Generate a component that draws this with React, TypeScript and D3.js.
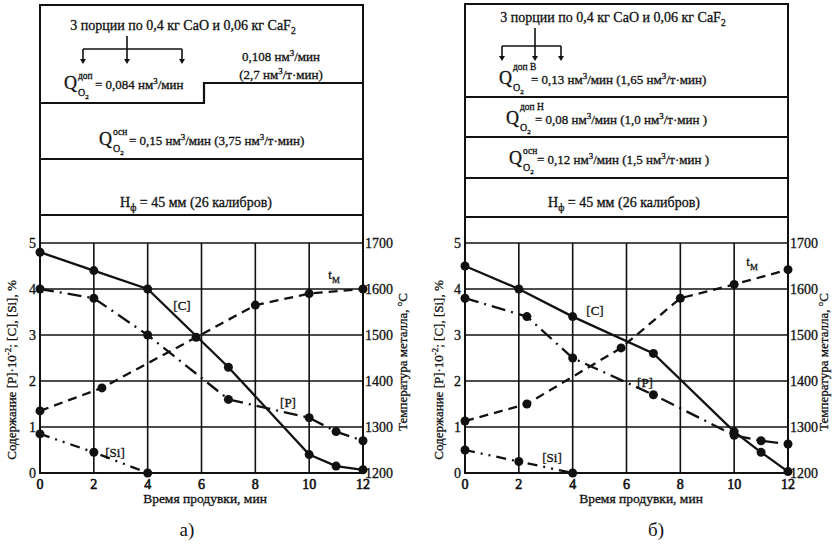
import React from "react";
import * as d3 from "d3";

const FONT = "'Liberation Serif','Times New Roman',serif";

// ---- axes ticks ----
const timeTicks = [0, 2, 4, 6, 8, 10, 12];
const contentTicks = [0, 1, 2, 3, 4, 5];
const tempTicks = [1200, 1300, 1400, 1500, 1600, 1700];

// ---- chart a) ----
const aC_t = [0, 2, 4, 7, 10, 11, 12];
const aC_v = [4.8, 4.4, 4.0, 2.3, 0.4, 0.15, 0.07];
const aP_t = [0, 2, 4, 7, 10, 11, 12];
const aP_v = [4.0, 3.8, 3.0, 1.6, 1.2, 0.9, 0.7];
const aSi_t = [0, 2, 4];
const aSi_v = [0.85, 0.45, 0.0];
const aT_t = [0, 2.3, 5.8, 8, 10, 12];
const aT_v = [1335, 1385, 1495, 1565, 1590, 1600];

// ---- chart б) ----
const bC_t = [0, 2, 4, 7, 10, 11, 12];
const bC_v = [4.5, 4.0, 3.4, 2.6, 0.9, 0.45, 0.03];
const bP_t = [0, 2.3, 4, 7, 10, 11, 12];
const bP_v = [3.8, 3.4, 2.5, 1.7, 0.82, 0.7, 0.63];
const bSi_t = [0, 2, 4];
const bSi_v = [0.5, 0.25, 0.0];
const bT_t = [0, 2.3, 5.8, 8, 10, 12];
const bT_v = [1313, 1350, 1472, 1580, 1610, 1642];

type Part = [string, "n" | "sup" | "sub"];

function rich(parts: Part[], fs: number) {
  let shift = 0;
  const out: any[] = [];
  parts.forEach(([t, k], i) => {
    const target = k === "sup" ? -fs * 0.42 : k === "sub" ? fs * 0.3 : 0;
    const dy = target - shift;
    shift = target;
    out.push(
      <tspan key={i} dy={dy} fontSize={k === "n" ? fs : fs * 0.68}>
        {t}
      </tspan>
    );
  });
  return out;
}

function QLabel({ x, y, sup, rest, supW, supDy = 10 }: { x: number; y: number; sup: string; rest: Part[]; supW: number; supDy?: number }) {
  return (
    <g fontFamily={FONT} fill="#111">
      <text x={x} y={y} fontSize={18}>Q</text>
      <text x={x + 14} y={y - supDy} fontSize={9.5}>{sup}</text>
      <text x={x + 14} y={y + 7} fontSize={10}>
        O<tspan dy={2.5} fontSize={7}>2</tspan>
      </text>
      <text x={x + 14 + supW} y={y} fontSize={13}>
        {rich(rest, 13)}
      </text>
    </g>
  );
}

function Arrow({ x, y1, y2 }: { x: number; y1: number; y2: number }) {
  return (
    <g>
      <line x1={x} y1={y1} x2={x} y2={y2 - 4} stroke="#111" strokeWidth={1.6} />
      <path d={`M${x - 3},${y2 - 5} L${x + 3},${y2 - 5} L${x},${y2} Z`} fill="#111" />
    </g>
  );
}

function Bracket({ xs, xMid, yTop, yBar, yEnd }: { xs: number[]; xMid: number; yTop: number; yBar: number; yEnd: number }) {
  return (
    <g>
      <line x1={xMid} y1={yTop} x2={xMid} y2={yBar} stroke="#111" strokeWidth={1.6} />
      <line x1={xs[0]} y1={yBar} x2={xs[xs.length - 1]} y2={yBar} stroke="#111" strokeWidth={1.6} />
      {xs.map((x, i) => (
        <Arrow key={i} x={x} y1={yBar} y2={yEnd} />
      ))}
    </g>
  );
}

type Series = { t: number[]; v: number[]; temp?: boolean; dash?: string };

function Chart(props: {
  x0: number;
  x1: number;
  top: number;
  series: Series[];
  labels: { x: number; y: number; parts: Part[] }[];
  leftTitleX: number;
  rightTitleX: number;
  xTitleX: number;
  caption: string;
  captionX: number;
}) {
  const { x0, x1, top, series, labels } = props;
  const x = d3.scaleLinear().domain([0, 12]).range([x0, x1]);
  const y = d3.scaleLinear().domain([0, 5]).range([473, 243]);
  const yT = d3.scaleLinear().domain([1200, 1700]).range([473, 243]);
  return (
    <g fontFamily={FONT} fill="#111">
      {/* grid */}
      {contentTicks.map((v) => (
        <line key={"h" + v} x1={x0} x2={x1} y1={y(v)} y2={y(v)} stroke="#111" strokeWidth={1.6} />
      ))}
      {timeTicks.map((t) => (
        <line key={"v" + t} x1={x(t)} x2={x(t)} y1={y(5)} y2={y(0)} stroke="#111" strokeWidth={1.6} />
      ))}
      {/* frame */}
      <rect x={x0} y={top} width={x1 - x0} height={y(0) - top} fill="none" stroke="#111" strokeWidth={2} />
      {/* series */}
      {series.map((s, i) => {
        const ys = s.temp ? yT : y;
        const pts = s.t.map((t, j) => [x(t), ys(s.v[j])] as [number, number]);
        const path = d3.line()(pts) || "";
        return (
          <g key={i}>
            <path d={path} fill="none" stroke="#111" strokeWidth={2.3} strokeDasharray={s.dash} />
            {pts.map((p, j) => (
              <circle key={j} cx={p[0]} cy={p[1]} r={4.5} fill="#111" />
            ))}
          </g>
        );
      })}
      {/* series labels */}
      {labels.map((l, i) => (
        <text key={i} x={l.x} y={l.y} fontSize={13} textAnchor="middle">
          {rich(l.parts, 13)}
        </text>
      ))}
      {/* left tick labels */}
      {contentTicks.map((v) => (
        <text key={"l" + v} x={x0 - 4} y={y(v) + 5} fontSize={14} textAnchor="end">
          {v}
        </text>
      ))}
      {/* right tick labels */}
      {tempTicks.map((v) => (
        <text key={"r" + v} x={x1 + 2} y={yT(v) + 5} fontSize={14} textAnchor="start">
          {v}
        </text>
      ))}
      {/* x tick labels */}
      {timeTicks.map((t) => (
        <text key={"x" + t} x={x(t)} y={489} fontSize={14} textAnchor="middle" className="bold">
          {t}
        </text>
      ))}
      <text x={props.xTitleX} y={503} fontSize={13.5} textAnchor="middle">
        Время продувки, мин
      </text>
      <text
        transform={`translate(${props.leftTitleX},370) rotate(-90)`}
        fontSize={13}
        textAnchor="middle"
      >
        {rich(
          [
            ["Содержание [P]·10", "n"],
            ["-2", "sup"],
            ["; [C], [Si], %", "n"],
          ],
          13
        )}
      </text>
      <text
        transform={`translate(${props.rightTitleX},362) rotate(-90)`}
        fontSize={13}
        textAnchor="middle"
      >
        {rich(
          [
            ["Температура металла, ", "n"],
            ["o", "sup"],
            ["C", "n"],
          ],
          13
        )}
      </text>
      <text x={props.captionX} y={536} fontSize={19} textAnchor="middle" className="thin">
        {props.caption}
      </text>
    </g>
  );
}

export default function App() {
  const dashT = "9,6";
  const dashP = "14,6,2,6";
  const dashSi = "10,6,2,6,2,6";
  return (
    <svg
      width={835}
      height={545}
      style={{ position: "absolute", left: 0, top: 0, background: "#fff" }}
      fontFamily={FONT}
    >
      <style>{`text { stroke: #111; stroke-width: 0.3px; } text.bold { stroke-width: 0.6px; } text.thin { stroke-width: 0; }`}</style>
      <rect x={0} y={0} width={835} height={545} fill="#fff" />
      {/* ===== Panel a) top ===== */}
      <g fill="#111">
        <text x={183} y={30} fontSize={14} textAnchor="middle">
          {rich(
            [
              ["3 порции по 0,4 кг CaO и 0,06 кг CaF", "n"],
              ["2", "sub"],
            ],
            14
          )}
        </text>
        <Bracket xs={[83, 127, 182]} xMid={127} yTop={36} yBar={49} yEnd={64} />
        <QLabel
          x={64}
          y={89}
          sup="доп"
          supW={17}
          rest={[
            ["= 0,084 нм", "n"],
            ["3", "sup"],
            ["/мин", "n"],
          ]}
        />
        <text x={281} y={61} fontSize={13} textAnchor="middle">
          {rich(
            [
              ["0,108 нм", "n"],
              ["3", "sup"],
              ["/мин", "n"],
            ],
            13
          )}
        </text>
        <text x={281} y={79} fontSize={13} textAnchor="middle">
          {rich(
            [
              ["(2,7 нм", "n"],
              ["3", "sup"],
              ["/т·мин)", "n"],
            ],
            13
          )}
        </text>
        <path d="M40,103 L204,103 L204,83 L363,83" fill="none" stroke="#111" strokeWidth={2.2} />
        <QLabel
          x={99}
          y={145}
          sup="осн"
          supW={16}
          rest={[
            ["= 0,15 нм", "n"],
            ["3", "sup"],
            ["/мин (3,75 нм", "n"],
            ["3", "sup"],
            ["/т·мин)", "n"],
          ]}
        />
        <line x1={40} x2={363} y1={159} y2={159} stroke="#111" strokeWidth={2.2} />
        <text x={196} y={207} fontSize={14} textAnchor="middle">
          {rich(
            [
              ["Н", "n"],
              ["ф", "sub"],
              [" = 45 мм (26 калибров)", "n"],
            ],
            14
          )}
        </text>
        <line x1={40} x2={363} y1={215} y2={215} stroke="#111" strokeWidth={2.2} />
      </g>
      <Chart
        x0={40}
        x1={363}
        top={5}
        series={[
          { t: aC_t, v: aC_v },
          { t: aP_t, v: aP_v, dash: dashP },
          { t: aSi_t, v: aSi_v, dash: dashSi },
          { t: aT_t, v: aT_v, temp: true, dash: dashT },
        ]}
        labels={[
          { x: 182, y: 310, parts: [["[C]", "n"]] },
          { x: 288, y: 407, parts: [["[P]", "n"]] },
          { x: 115, y: 457, parts: [["[Si]", "n"]] },
          { x: 334, y: 279, parts: [["t", "n"], ["М", "sub"]] },
        ]}
        leftTitleX={16}
        rightTitleX={407}
        xTitleX={205}
        caption="а)"
        captionX={187}
      />

      {/* ===== Panel б) top ===== */}
      <g fill="#111">
        <text x={613} y={22} fontSize={14} textAnchor="middle">
          {rich(
            [
              ["3 порции по 0,4 кг CaO и 0,06 кг CaF", "n"],
              ["2", "sub"],
            ],
            14
          )}
        </text>
        <Bracket xs={[502, 535, 561]} xMid={535} yTop={28} yBar={46} yEnd={61} />
        <QLabel
          x={499}
          y={84}
          sup="доп В"
          supW={18}
          supDy={14}
          rest={[
            ["= 0,13 нм", "n"],
            ["3", "sup"],
            ["/мин (1,65 нм", "n"],
            ["3", "sup"],
            ["/т·мин)", "n"],
          ]}
        />
        <line x1={465} x2={788} y1={97} y2={97} stroke="#111" strokeWidth={2.2} />
        <QLabel
          x={506}
          y={124}
          sup="доп Н"
          supW={15}
          supDy={14}
          rest={[
            ["= 0,08 нм", "n"],
            ["3", "sup"],
            ["/мин (1,0 нм", "n"],
            ["3", "sup"],
            ["/т·мин )", "n"],
          ]}
        />
        <line x1={465} x2={788} y1={137} y2={137} stroke="#111" strokeWidth={2.2} />
        <QLabel
          x={509}
          y={164}
          sup="осн"
          supW={14}
          rest={[
            ["= 0,12 нм", "n"],
            ["3", "sup"],
            ["/мин (1,5 нм", "n"],
            ["3", "sup"],
            ["/т·мин )", "n"],
          ]}
        />
        <line x1={465} x2={788} y1={178} y2={178} stroke="#111" strokeWidth={2.2} />
        <text x={624} y={207} fontSize={14} textAnchor="middle">
          {rich(
            [
              ["Н", "n"],
              ["ф", "sub"],
              [" = 45 мм (26 калибров)", "n"],
            ],
            14
          )}
        </text>
        <line x1={465} x2={788} y1={217} y2={217} stroke="#111" strokeWidth={2.2} />
      </g>
      <Chart
        x0={465}
        x1={788}
        top={4}
        series={[
          { t: bC_t, v: bC_v },
          { t: bP_t, v: bP_v, dash: dashP },
          { t: bSi_t, v: bSi_v, dash: dashSi },
          { t: bT_t, v: bT_v, temp: true, dash: dashT },
        ]}
        labels={[
          { x: 595, y: 315, parts: [["[C]", "n"]] },
          { x: 645, y: 387, parts: [["[P]", "n"]] },
          { x: 552, y: 462, parts: [["[Si]", "n"]] },
          { x: 752, y: 266, parts: [["t", "n"], ["М", "sub"]] },
        ]}
        leftTitleX={443}
        rightTitleX={828}
        xTitleX={641}
        caption="б)"
        captionX={656}
      />
    </svg>
  );
}
